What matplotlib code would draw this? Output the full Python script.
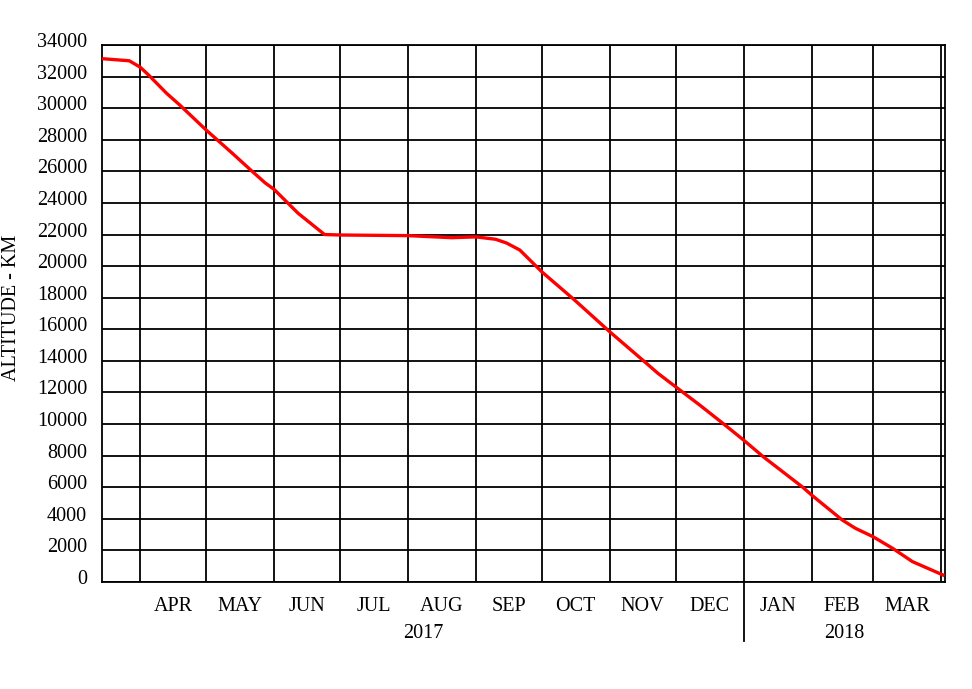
import matplotlib
matplotlib.use('Agg')
import matplotlib.pyplot as plt
import matplotlib.transforms as mtransforms
import pandas as pd

# altitude readings
dates = ['2017-03-15', '2017-03-27', '2017-04-01', '2017-04-05', '2017-04-13',
         '2017-04-19', '2017-05-01', '2017-05-13', '2017-05-22', '2017-05-28',
         '2017-06-01', '2017-06-12', '2017-06-24', '2017-07-01', '2017-08-01',
         '2017-08-21', '2017-09-01', '2017-09-10', '2017-09-15', '2017-09-21',
         '2017-10-01', '2017-10-16', '2017-11-01', '2017-11-16', '2017-11-23',
         '2017-12-01', '2017-12-12', '2017-12-23', '2018-01-01', '2018-01-10',
         '2018-01-28', '2018-02-01', '2018-02-15', '2018-02-21', '2018-03-01',
         '2018-03-10', '2018-03-19', '2018-04-02']
altitude = [33130, 33000, 32590, 32070, 30940, 30200, 28620, 27140, 26000, 25260,
            24860, 23340, 22000, 21970, 21930, 21800, 21850, 21700, 21460, 21020,
            19645, 17850, 15845, 14055, 13210, 12365, 11206, 10000, 8990, 7930,
            6000, 5510, 3925, 3400, 2870, 2130, 1290, 440]

months = ['APR', 'MAY', 'JUN', 'JUL', 'AUG', 'SEP', 'OCT', 'NOV', 'DEC',
          'JAN', 'FEB', 'MAR']
years = ['2017', '2018']
yticks = list(range(0, 34001, 2000))

x = pd.to_datetime(dates)
month_starts = pd.date_range('2017-04-01', '2018-04-01', freq='MS')
mids = [month_starts[i] + (month_starts[i + 1] - month_starts[i]) / 2 for i in range(len(months))]
xmin = pd.Timestamp('2017-03-14 16:00')
xmax = pd.Timestamp('2018-04-02 20:00')
year_split = pd.Timestamp('2018-01-01')

plt.rcParams['font.family'] = ['Liberation Serif', 'DejaVu Serif']
fs = 14.5

fig = plt.figure(figsize=(9.72, 6.89), dpi=100)
ax = fig.add_axes([0.1052, 0.1553, 0.867, 0.7794])

ax.plot(x, altitude, color='red', lw=2.4, zorder=3)

ax.set_xlim(xmin, xmax)
ax.set_ylim(0, 34000)
ax.set_yticks(yticks)
ax.set_yticklabels([str(v) for v in yticks])

ax.set_xticks(mids)
ax.set_xticklabels(months)
ax.set_xticks(month_starts, minor=True)
ax.grid(True, which='minor', axis='x', color='black', lw=1.3)
ax.grid(True, which='major', axis='y', color='black', lw=1.3)
ax.set_axisbelow(True)
ax.tick_params(axis='both', which='both', length=0, labelsize=fs)
ax.tick_params(axis='x', pad=11)
ax.tick_params(axis='y', pad=11)
for s in ax.spines.values():
    s.set_linewidth(1.3)

# nudge y labels up a bit
off = mtransforms.ScaledTranslation(0, 0.05, fig.dpi_scale_trans)
for lab in ax.get_yticklabels():
    lab.set_transform(lab.get_transform() + off)

# year labels and divider
trans = mtransforms.blended_transform_factory(ax.transData, ax.transAxes)
ax.text(xmin + (year_split - xmin) / 2, -0.095, years[0], transform=trans,
        ha='center', va='center', fontsize=fs)
ax.text(year_split + (xmax - year_split) / 2, -0.095, years[1], transform=trans,
        ha='center', va='center', fontsize=fs)
ax.plot([year_split, year_split], [0, -0.11], transform=trans, color='black',
        lw=1.3, clip_on=False)

fig.text(12 / 972, 1 - 308 / 689, 'ALTITUDE - KM', rotation=90,
         ha='center', va='center', fontsize=fs)

fig.savefig('out.png', dpi=100)
